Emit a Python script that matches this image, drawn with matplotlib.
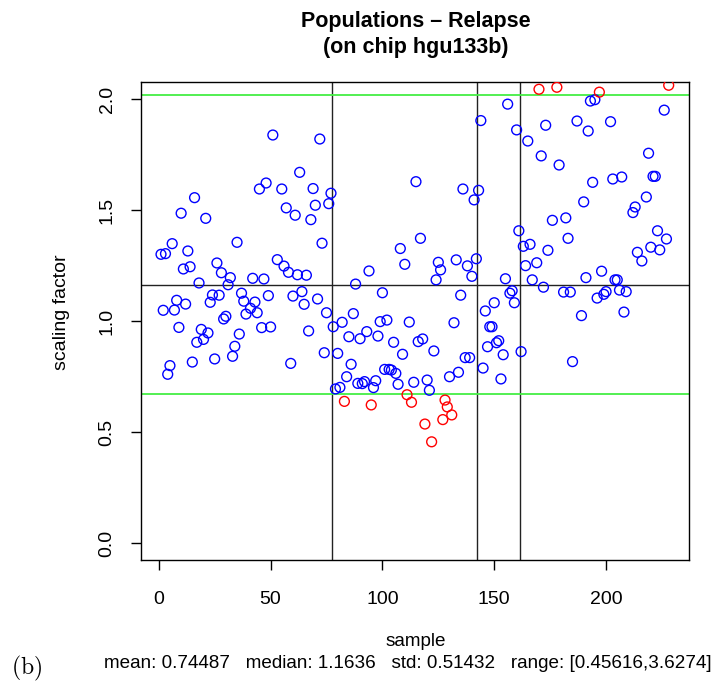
import matplotlib
matplotlib.use("Agg")
import matplotlib.pyplot as plt
import numpy as np

plt.rcParams['font.family'] = ['Liberation Sans', 'DejaVu Sans']
plt.rcParams['mathtext.fontset'] = 'cm'

# sample index and scaling factor for each array
sample = [1, 2, 3, 4, 5, 6, 7, 8, 9, 10, 11, 12, 13, 14, 15, 16, 17, 18, 19, 20,
          21, 22, 23, 24, 25, 26, 27, 28, 29, 30, 31, 32, 33, 34, 35, 36, 37, 38, 39,
          41, 42, 43, 44, 45, 46, 47, 48, 49, 50, 51, 53, 55, 56, 57, 58, 59, 60,
          61, 62, 63, 64, 65, 66, 67, 68, 69, 70, 71, 72, 73, 74, 75, 76, 77, 78,
          79, 80, 81, 82, 83, 84, 85, 86, 87, 88, 89, 90, 91, 92, 93, 94, 95, 96,
          97, 98, 99, 100, 101, 102, 103, 104, 105, 106, 107, 108, 109, 110, 111,
          112, 113, 114, 115, 116, 117, 118, 119, 120, 121, 122, 123, 124, 125, 126,
          127, 128, 129, 130, 131, 132, 133, 134, 135, 136, 137, 138, 139, 140, 141,
          142, 143, 144, 145, 146, 147, 148, 149, 150, 151, 152, 153, 154, 155, 156,
          157, 158, 159, 160, 161, 162, 163, 164, 165, 166, 167, 169, 170, 171, 172,
          173, 174, 176, 178, 179, 181, 182, 183, 184, 185, 187, 189, 190, 191, 192,
          193, 194, 195, 196, 197, 198, 199, 200, 202, 203, 204, 205, 206, 207, 208,
          209, 212, 213, 214, 216, 218, 219, 220, 221, 222, 223, 224, 226, 227, 228]
scaling = [1.301, 1.049, 1.304, 0.761, 0.800, 1.349, 1.050, 1.094, 0.972, 1.486,
           1.235, 1.077, 1.316, 1.245, 0.816, 1.556, 0.905, 1.172, 0.963, 0.918,
           1.463, 0.947, 1.085, 1.118, 0.830, 1.262, 1.117, 1.218, 1.010, 1.022,
           1.164, 1.196, 0.842, 0.887, 1.355, 0.942, 1.126, 1.090, 1.032,
           1.058, 1.193, 1.086, 1.038, 1.595, 0.971, 1.190, 1.622, 1.115, 0.974,
           1.838, 1.277, 1.595, 1.248, 1.510, 1.220, 0.810, 1.113,
           1.477, 1.209, 1.670, 1.133, 1.076, 1.207, 0.956, 1.457, 1.597, 1.522,
           1.100, 1.820, 1.351, 0.858, 1.038, 1.529, 1.576, 0.975,
           0.695, 0.855, 0.702, 0.995, 0.639, 0.750, 0.930, 0.806, 1.034, 1.167,
           0.720, 0.921, 0.719, 0.728, 0.953, 1.226, 0.623, 0.701,
           0.732, 0.933, 0.998, 1.128, 0.783, 1.005, 0.783, 0.780, 0.905, 0.765,
           0.716, 1.327, 0.851, 1.256, 0.669,
           0.996, 0.635, 0.725, 1.628, 0.908, 1.373, 0.920, 0.537, 0.735, 0.689,
           0.457, 0.866, 1.186, 1.265, 1.231,
           0.557, 0.645, 0.614, 0.750, 0.578, 0.993, 1.276, 0.770, 1.117, 1.595,
           0.836, 1.249, 0.836, 1.202, 1.546,
           1.281, 1.589, 1.903, 0.789, 1.046, 0.885, 0.975, 0.975, 1.083, 0.903,
           0.912, 0.740, 0.849, 1.191, 1.977,
           1.126, 1.137, 1.083, 1.861, 1.407, 0.863, 1.337, 1.250, 1.811, 1.346,
           1.186, 1.263, 2.044, 1.744, 1.153,
           1.882, 1.319, 1.454, 2.053, 1.703, 1.131, 1.465, 1.373, 1.131, 0.818,
           1.901, 1.025, 1.537, 1.196, 1.856,
           1.991, 1.625, 1.997, 1.104, 2.031, 1.225, 1.121, 1.133, 1.898, 1.640,
           1.186, 1.186, 1.140, 1.649, 1.041,
           1.133, 1.489, 1.514, 1.310, 1.271, 1.559, 1.756, 1.333, 1.652, 1.652,
           1.407, 1.321, 1.950, 1.370, 2.062]

median = 1.1636
lower_cut = 0.672
upper_cut = 2.018
group_breaks = [77.5, 142.5, 161.5]
stats = "mean: 0.74487   median: 1.1636   std: 0.51432   range: [0.45616,3.6274]"

W, H = 726, 686
fig = plt.figure(figsize=(W / 100, H / 100), dpi=100)
ax = fig.add_axes([140.7 / W, 1 - 560 / H, (689 - 140.7) / W, (560 - 81.7) / H])

x = np.array(sample)
y = np.array(scaling)
outlier = (y < lower_cut) | (y > upper_cut)

ax.scatter(x[~outlier], y[~outlier], s=50, facecolors='none', edgecolors='#0000ff', linewidths=1.0, zorder=3)
ax.scatter(x[outlier], y[outlier], s=50, facecolors='none', edgecolors='#ff0000', linewidths=1.0, zorder=3)

ax.axhline(median, color='#222222', lw=1.0, zorder=2)
for b in group_breaks:
    ax.axvline(b, color='#222222', lw=1.0, zorder=2)
ax.axhline(lower_cut, color='#44ee44', lw=1.3, zorder=2)
ax.axhline(upper_cut, color='#44ee44', lw=1.3, zorder=2)

n = 228
pad = (n - 1) * 0.04
ax.set_xlim(1 - pad, n + pad)
ax.set_ylim(-0.075, 2.078)
ax.set_xticks([0, 50, 100, 150, 200])
ax.set_yticks([0.0, 0.5, 1.0, 1.5, 2.0])
ax.set_yticklabels(['0.0', '0.5', '1.0', '1.5', '2.0'], rotation=90, va='center')
ax.tick_params(direction='out', length=7, width=1, labelsize=14)
ax.tick_params(axis='x', pad=15)
ax.tick_params(axis='y', pad=11)
for sp in ax.spines.values():
    sp.set_linewidth(1.0)

fig.text(416 / W, 1 - 21 / H, "Populations \u2013 Relapse", ha='center', va='center', fontsize=15.5, fontweight='bold')
fig.text(416 / W, 1 - 48 / H, "(on chip hgu133b)", ha='center', va='center', fontsize=15.5, fontweight='bold')
fig.text(62 / W, 1 - 312 / H, "scaling factor", ha='center', va='center', rotation=90, fontsize=14)
fig.text(416 / W, 1 - 641 / H, "sample", ha='center', va='center', fontsize=13.6)
fig.text(408 / W, 1 - 663 / H, stats, ha='center', va='center', fontsize=13.6)
fig.text(27 / W, 1 - 668 / H, r"$\mathrm{(b)}$", ha='center', va='center', fontsize=17)

fig.savefig("out.png", dpi=100)
